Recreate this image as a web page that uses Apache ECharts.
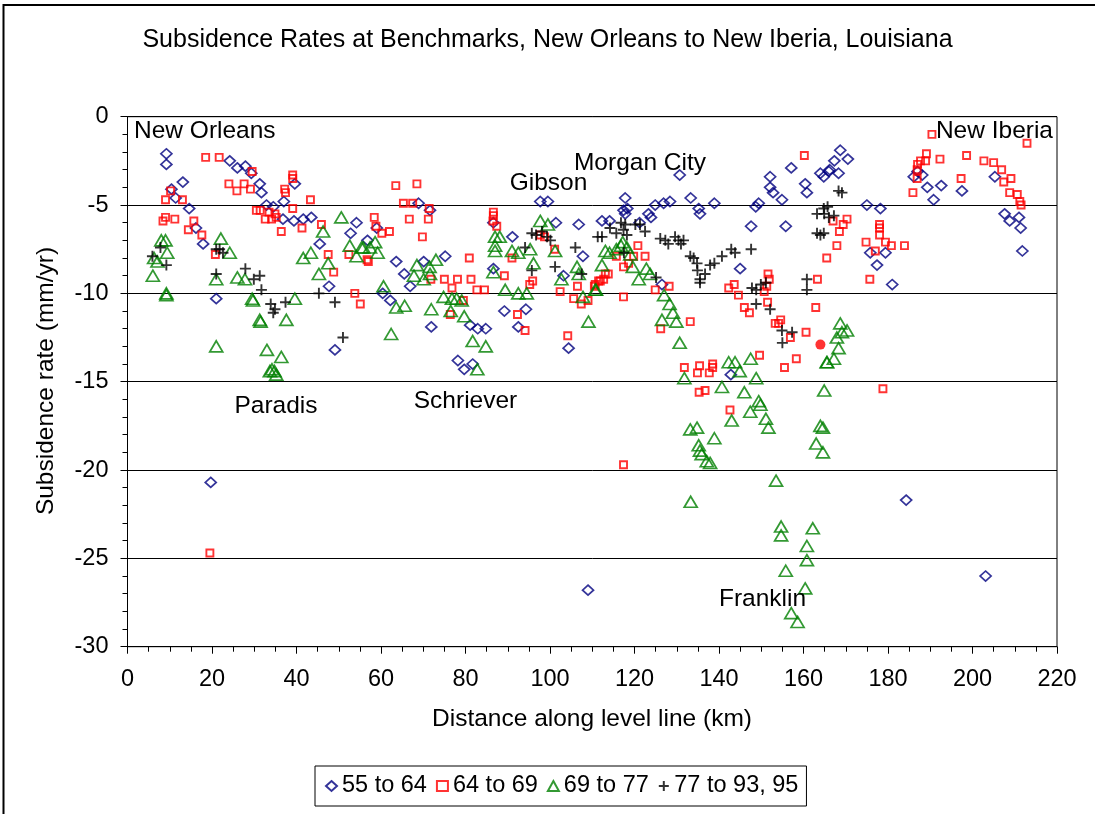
<!DOCTYPE html>
<html><head><meta charset="utf-8">
<script src="https://cdn.jsdelivr.net/npm/echarts@6/dist/echarts.min.js"></script>
<style>html,body{margin:0;padding:0;background:#fff}#c{width:1095px;height:814px}</style>
</head><body><div id="c"></div>
<script>
// ---- data (x = distance km, y = subsidence rate mm/yr) ----
const s55to64 = [
[9.2,-2.1],[9.2,-2.7],[24.2,-2.5],[26.0,-2.9],[27.9,-2.8],[29.3,-3.2],[31.3,-3.8],[31.7,-4.3],[32.9,-5.0],[34.5,-5.1],[37.0,-4.8],[39.6,-3.8],[10.4,-4.1],[11.4,-4.6],[13.1,-3.7],[14.6,-5.2],[16.2,-6.3],[17.9,-7.2],[36.8,-5.8],[39.4,-5.9],[41.6,-5.8],[43.5,-5.7],[45.5,-7.2],[47.7,-9.6],[21.0,-10.3],[49.1,-13.2],[52.8,-6.6],[54.2,-6.0],[56.8,-7.0],
[19.7,-20.7],
[59.0,-6.3],[68.9,-4.9],[71.6,-5.3],[63.6,-8.2],[65.5,-8.9],[66.9,-9.6],[70.1,-8.2],[75.2,-7.9],[60.4,-10.0],[62.2,-10.4],[86.6,-6.0],[86.6,-8.6],[91.1,-6.8],[97.7,-4.8],[99.5,-4.8],[101.4,-6.0],[106.8,-6.1],[107.8,-7.9],[103.2,-9.0],[89.2,-11.0],[94.3,-10.9],[71.9,-11.9],[81.1,-11.8],[82.9,-12.0],[84.8,-12.0],[92.5,-11.9],[104.4,-13.1],
[78.2,-13.8],[79.7,-14.3],[81.7,-14.0],[109.0,-26.8],
[130.7,-3.3],[117.8,-4.6],[117.4,-5.3],[118.3,-5.2],[117.8,-5.5],[112.3,-5.9],[114.1,-5.9],[121.2,-6.0],[123.3,-5.5],[123.9,-5.7],[124.9,-5.0],[126.9,-4.9],[128.4,-4.8],[133.3,-4.6],[135.2,-5.2],[135.5,-5.5],[138.9,-4.9],[145.0,-8.6],[147.6,-6.2],[148.7,-5.1],[149.4,-4.9],[152.1,-3.4],[152.1,-4.0],[152.8,-4.3],[154.9,-4.7],[157.1,-2.9],[155.8,-6.2],[160.4,-3.8],[160.8,-4.3],[164.0,-3.2],[164.8,-3.4],[166.2,-3.0],[126.5,-9.5],
[142.8,-14.6],
[168.7,-1.9],[167.3,-2.5],[170.5,-2.4],[166.0,-3.1],[168.3,-3.2],[175.0,-5.0],[178.2,-5.2],[175.8,-7.7],[179.4,-7.7],[177.4,-8.4],[181.0,-9.5],[186.1,-3.4],[187.0,-3.1],[188.1,-3.3],[189.3,-4.0],[190.8,-4.7],[192.6,-3.9],[197.5,-4.2],[205.3,-3.4],[207.6,-5.5],[208.8,-5.9],[211.0,-5.7],[211.4,-6.3],[211.8,-7.6],[184.3,-21.7],[203.1,-26.0]
];
const s64to69 = [
[18.5,-2.3],[21.7,-2.3],[29.5,-3.1],[24.0,-3.8],[25.9,-4.2],[27.6,-3.8],[29.1,-4.1],[9.0,-4.7],[8.4,-5.9],[9.0,-5.7],[11.2,-5.8],[10.2,-4.2],[13.0,-4.7],[15.7,-5.9],[14.4,-6.4],[17.6,-6.7],[20.8,-7.8],[30.5,-5.3],[31.4,-5.3],[32.6,-5.8],[33.5,-5.4],[34.9,-5.5],[34.1,-5.8],[35.2,-5.7],[36.4,-6.5],[37.2,-4.1],[37.4,-4.3],[39.1,-3.3],[39.1,-3.5],[39.1,-5.2],[41.3,-6.3],[43.3,-4.7],[45.9,-6.1],[47.5,-7.8],[48.8,-8.8],[52.4,-7.8],[53.8,-10.0],[55.1,-10.6],[56.7,-8.1],
[19.5,-24.7],
[63.5,-3.9],[68.5,-3.8],[65.3,-4.9],[67.5,-4.9],[71.4,-5.2],[71.2,-5.8],[66.7,-5.8],[58.4,-5.7],[58.8,-6.2],[60.2,-6.6],[62.0,-6.5],[69.8,-6.8],[57.0,-8.2],[80.9,-8.0],[75.0,-9.2],[78.1,-9.2],[81.3,-9.2],[71.8,-9.2],[76.8,-9.7],[82.7,-9.8],[84.5,-9.8],[76.4,-11.2],[79.5,-10.4],[86.6,-5.4],[86.6,-5.6],[86.5,-5.9],[87.4,-6.2],[91.0,-8.0],[89.2,-9.0],[92.3,-11.2],[94.1,-12.1],[95.2,-9.5],[95.9,-9.3],[97.7,-6.7],[98.7,-6.8],[101.1,-7.5],[102.4,-9.9],[105.6,-10.3],[106.5,-9.6],[107.4,-10.6],[109.0,-10.4],[110.7,-9.5],[111.5,-9.3],[104.2,-12.4],
[160.2,-2.2],[165.5,-8.0],[163.3,-9.2],[162.9,-10.8],[160.6,-12.2],[156.9,-12.5],[154.6,-11.5],[154.1,-11.7],[153.3,-11.7],[151.6,-8.9],[151.9,-9.2],[151.3,-9.6],[150.7,-9.9],[151.5,-10.5],[147.2,-11.1],[146.0,-10.8],[144.6,-10.1],[143.6,-9.5],[142.3,-9.7],[133.2,-11.6],[126.2,-12.0],[124.9,-9.8],[128.2,-9.6],[122.5,-7.9],[120.8,-7.3],[117.4,-10.2],[113.1,-8.9],[113.8,-8.9],[111.9,-9.3],[112.7,-9.2],[110.5,-9.6],[118.6,-8.3],[117.4,-8.5],[115.7,-7.9],[119.8,-7.9],
[131.8,-14.2],[134.9,-14.5],[135.4,-14.1],[137.7,-14.5],[138.5,-14.2],[138.5,-14.0],[135.3,-15.6],[136.7,-15.5],[142.6,-16.6],[149.6,-13.5],[155.5,-14.2],[158.3,-13.7],[117.4,-19.7],
[190.4,-1.0],[212.9,-1.5],[189.1,-2.1],[187.7,-2.5],[188.9,-2.5],[187.0,-2.7],[192.3,-2.4],[198.6,-2.2],[202.7,-2.5],[205.0,-2.6],[206.9,-3.0],[209.1,-3.5],[207.4,-3.7],[197.3,-3.5],[185.9,-4.3],[186.9,-3.5],[186.9,-3.0],[208.8,-4.3],[210.6,-4.4],[211.2,-4.8],[211.5,-5.0],[170.3,-5.8],[167.0,-5.9],[169.4,-6.1],[168.5,-6.5],[167.9,-7.3],[178.0,-6.1],[178.0,-6.3],[178.0,-6.7],[179.4,-7.1],[180.8,-7.3],[183.9,-7.3],[174.8,-7.1],[177.0,-7.6],[175.7,-9.2],[178.8,-15.4]
];
const s64to69Filled = [[164.0,-12.9]];
const s69to77 = [
[8.0,-7.0],[9.0,-7.0],[6.3,-8.0],[9.4,-7.7],[7.1,-8.2],[6.0,-9.0],[9.2,-10.0],[9.2,-10.1],[22.1,-6.9],[24.2,-7.7],[21.0,-9.2],[26.0,-9.1],[27.8,-9.2],[29.5,-10.3],[29.7,-10.4],[31.3,-11.5],[31.5,-11.6],[37.6,-11.5],[39.6,-10.3],[21.0,-13.0],[33.0,-13.2],[36.4,-13.6],[46.3,-6.5],[43.4,-7.7],[41.6,-8.0],[47.5,-8.3],[45.3,-8.9],[50.6,-5.7],[52.6,-7.3],[54.2,-7.9],[55.4,-7.4],
[34.2,-14.3],[34.8,-14.4],[35.2,-14.6],[33.7,-14.4],
[55.8,-7.4],[57.4,-7.4],[58.6,-7.1],[59.2,-7.7],[60.6,-9.6],[63.6,-10.8],[65.6,-10.7],[62.4,-12.3],[68.5,-8.4],[67.8,-9.0],[70.1,-9.2],[71.5,-8.5],[73.0,-8.1],[71.6,-8.9],[71.9,-10.9],[74.8,-10.2],[76.8,-10.3],[77.9,-10.3],[79.1,-10.4],[76.5,-11.0],[79.7,-11.3],[81.7,-12.7],[84.8,-13.0],[87.0,-6.8],[87.0,-7.3],[87.0,-7.6],[86.6,-8.8],[88.1,-6.8],[89.4,-9.8],[91.0,-7.6],[92.5,-7.7],[92.5,-10.0],[94.5,-10.0],[95.3,-7.5],[96.1,-8.3],[97.7,-5.9],[99.5,-6.1],[101.2,-7.6],[102.7,-9.2],[106.4,-8.5],[106.8,-8.9],[107.8,-10.2],[109.1,-11.6],[110.9,-9.8],
[82.8,-14.3],
[113.1,-7.6],[114.1,-7.7],[115.7,-7.5],[116.8,-7.3],[117.2,-7.1],[118.2,-7.4],[119.0,-7.8],[112.3,-8.4],[110.7,-9.8],[119.6,-8.5],[121.0,-9.2],[122.8,-8.6],[123.7,-8.9],[127.0,-10.1],[128.3,-10.6],[129.1,-11.1],[129.9,-11.6],[126.5,-11.5],[130.7,-12.8],
[131.8,-14.8],[140.7,-15.3],[142.3,-13.9],[143.8,-13.9],[144.9,-14.4],[147.5,-13.7],[148.8,-14.8],[146.0,-15.6],[149.4,-16.1],[149.8,-16.3],[147.4,-16.7],[151.1,-17.1],[151.7,-17.6],[143.0,-17.2],[133.2,-17.7],[134.8,-17.6],[135.2,-18.6],[135.5,-18.9],[135.9,-19.1],[137.1,-19.5],[137.9,-19.6],[138.9,-18.2],[133.3,-21.8],[153.5,-20.6],[154.7,-23.2],[154.7,-23.7],[162.2,-23.3],[160.8,-24.3],[160.8,-25.1],[155.8,-25.7],[160.4,-26.7],[157.1,-28.1],[158.6,-28.6],[165.5,-13.9],[164.9,-15.5],[164.0,-17.5],[164.6,-17.6],[163.0,-18.5],[164.6,-19.0],
[168.7,-11.7],[170.3,-12.1],[169.1,-12.2],[167.9,-12.5],[168.3,-13.1],[167.2,-13.7],[165.6,-13.9]
];
const s77to95 = [
[7.8,-7.4],[5.9,-7.9],[9.2,-8.4],[21.0,-7.5],[22.6,-7.7],[21.8,-7.5],[21.0,-8.9],[27.9,-8.6],[29.9,-9.2],[31.3,-9.0],[31.7,-9.8],[33.9,-10.6],[34.9,-10.9],[34.5,-11.1],[37.4,-10.5],[45.3,-10.0],[49.1,-10.5],[51.0,-12.5],
[94.1,-7.4],[95.7,-6.6],[96.7,-6.7],[98.1,-6.5],[99.3,-6.8],[100.1,-7.0],[95.7,-8.7],[101.2,-8.5],[106.0,-7.4],[107.5,-8.9],[111.3,-6.8],
[112.3,-6.8],[114.2,-6.3],[115.7,-6.6],[116.8,-6.0],[117.8,-6.1],[117.4,-6.4],[118.2,-6.7],[120.2,-6.1],[121.3,-6.1],[122.5,-6.5],[117.5,-7.7],[125.1,-9.1],[126.1,-6.9],[127.3,-7.0],[128.0,-7.2],[129.6,-6.8],[130.4,-7.0],[131.0,-7.2],[131.6,-7.0],[133.2,-7.9],[134.0,-8.0],[134.8,-8.3],[134.9,-8.7],[135.5,-9.2],[135.5,-9.4],[136.7,-8.9],[137.9,-8.4],[138.9,-8.3],[140.7,-7.9],[142.9,-7.5],[143.8,-7.7],[147.6,-7.5],[147.8,-9.7],[148.8,-9.8],[149.9,-9.5],[151.1,-9.4],[148.8,-10.6],[152.1,-10.9],[154.9,-12.1],[157.3,-12.2],[155.0,-12.8],[160.8,-9.2],[160.8,-9.8],[163.2,-5.5],[164.8,-5.2],[165.7,-5.1],[163.2,-6.6],[164.0,-6.7],[164.8,-6.6],
[168.3,-4.2],[169.1,-4.3],[164.9,-5.5],[167.2,-5.6],[166.0,-5.7]
];
const seriesNames = ['55 to 64','64 to 69','69 to 77','77 to 93, 95'];
const placeLabels = ['New Orleans','New Iberia','Morgan City','Gibson','Paradis','Schriever','Franklin'];
const titleText = 'Subsidence Rates at Benchmarks, New Orleans to New Iberia, Louisiana';
const xName = 'Distance along level line (km)';
const yName = 'Subsidence rate (mm/yr)';

// ---- chart ----
const FONT = '"Liberation Sans", Arial, Helvetica, sans-serif';
const chart = echarts.init(document.getElementById('c'), null, {renderer:'canvas'});
function hollow(c, w){ return {color:'rgba(0,0,0,0)', borderColor:c, borderWidth:w}; }
function txt(t, x, y, align, rot){
  return {type:'text', x:x, y:y, rotation:rot||0, z:50, silent:true,
    style:{text:t, align:align||'center', verticalAlign:'middle', fontSize:24.5, fontFamily:FONT, fill:'#000'}};
}
chart.setOption({
  animation:false,
  backgroundColor:'#fff',
  title:{text:titleText, left:'center', top:28, padding:[0,0,0,10],
    textStyle:{fontSize:25, fontWeight:'normal', fontFamily:FONT, color:'#000'}},
  grid:{left:127.5, right:38, top:116.7, bottom:167.3, show:true, borderColor:'#000', borderWidth:1, containLabel:false},
  xAxis:{type:'value', min:0, max:220, interval:20,
    axisLine:{onZero:false, lineStyle:{color:'#000', width:1}},
    axisTick:{show:true, length:7, lineStyle:{color:'#000'}},
    minorTick:{show:true, splitNumber:4, length:5, lineStyle:{color:'#000'}},
    axisLabel:{margin:21, fontSize:23.5, color:'#000', fontFamily:FONT},
    splitLine:{show:false}, minorSplitLine:{show:false}},
  yAxis:{type:'value', min:-30, max:0, interval:5,
    axisLine:{onZero:false, lineStyle:{color:'#000', width:1}},
    axisTick:{show:true, length:7, lineStyle:{color:'#000'}},
    minorTick:{show:true, splitNumber:5, length:5, lineStyle:{color:'#000'}},
    axisLabel:{margin:19, fontSize:23.5, color:'#000', fontFamily:FONT},
    splitLine:{show:true, lineStyle:{color:'#000', width:1}}, minorSplitLine:{show:false}},
  legend:{data:seriesNames, left:315, top:766, orient:'horizontal',
    padding:[8,8,8,10], itemGap:9, itemWidth:11, itemHeight:10,
    borderColor:'#000', borderWidth:1, backgroundColor:'#fff', selectedMode:false,
    textStyle:{fontSize:23.5, color:'#000', fontFamily:FONT}},
  series:[
    {name:seriesNames[0], type:'scatter', data:s55to64, symbol:'diamond', symbolSize:[11,10],
      itemStyle:hollow('#000080',1.7), emphasis:{disabled:true}, z:2},
    {name:seriesNames[1], type:'scatter', data:s64to69, symbol:'rect', symbolSize:7,
      itemStyle:hollow('#ff0000',1.9), emphasis:{disabled:true}, z:3},
    {name:seriesNames[2], type:'scatter', data:s69to77, symbol:'triangle', symbolSize:[13,11],
      itemStyle:hollow('#008000',1.7), emphasis:{disabled:true}, z:4},
    {name:seriesNames[3], type:'scatter', data:s77to95, symbol:'path://M0,5L10,5M5,0L5,10', symbolSize:11,
      itemStyle:{color:'rgba(0,0,0,0)', borderColor:'#000', borderWidth:1.9}, emphasis:{disabled:true}, z:5},
    {name:'filled', type:'scatter', data:s64to69Filled, symbol:'circle', symbolSize:10,
      itemStyle:{color:'#ff0000'}, emphasis:{disabled:true}, z:6}
  ],
  graphic:[
    {type:'rect', shape:{x:3.5, y:5, width:1100, height:830}, style:{fill:'none', stroke:'#000', lineWidth:2}, silent:true, z:-1},
    txt(yName, 46, 381, 'center', Math.PI/2),
    txt(xName, 592, 719),
    txt(placeLabels[0], 134, 131.5, 'left'),
    txt(placeLabels[1], 1053, 131.5, 'right'),
    txt(placeLabels[2], 640, 163),
    txt(placeLabels[3], 548.5, 183.5),
    txt(placeLabels[4], 276, 406),
    txt(placeLabels[5], 465.5, 401),
    txt(placeLabels[6], 762.5, 599)
  ]
});
</script>
</body></html>
